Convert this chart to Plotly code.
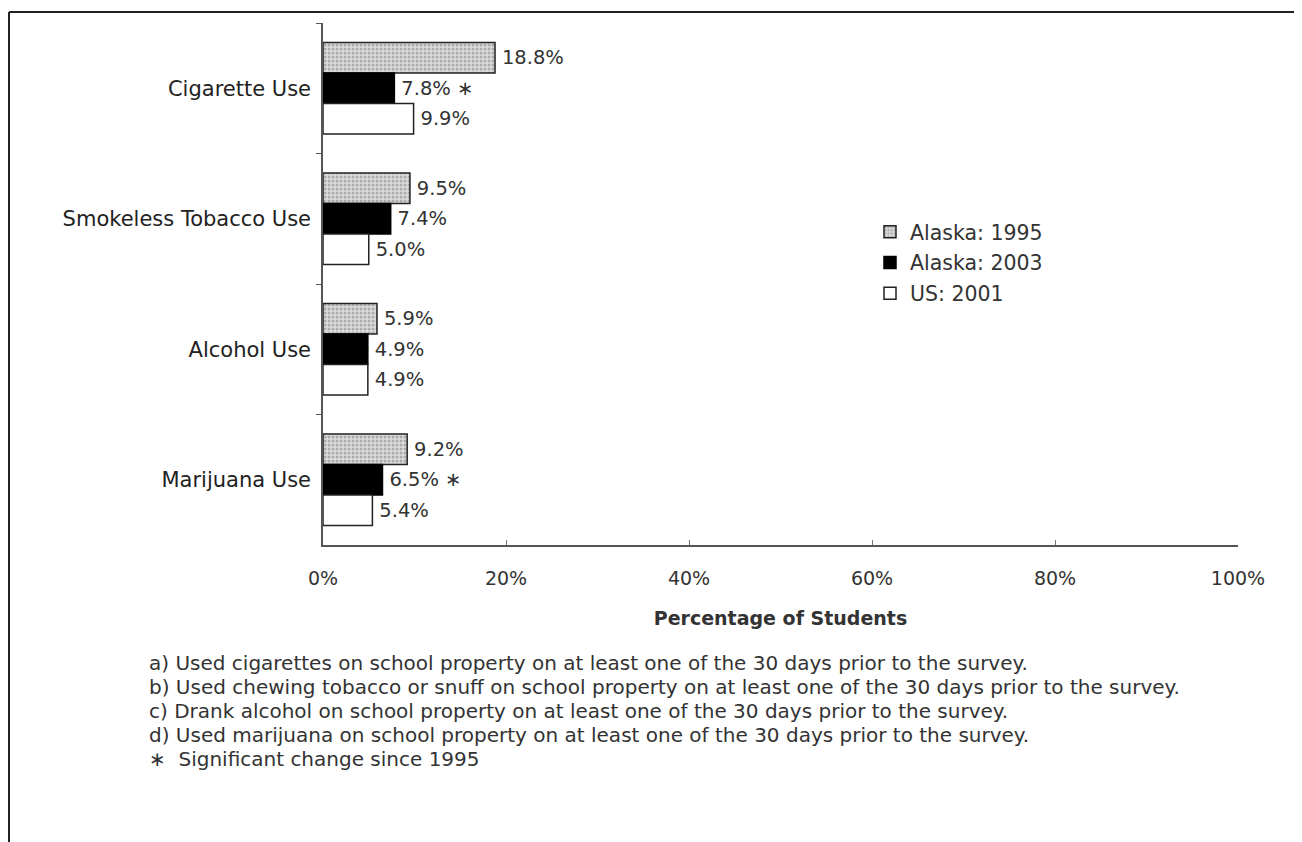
import plotly.graph_objects as go

categories = ["Cigarette Use", "Smokeless Tobacco Use", "Alcohol Use", "Marijuana Use"]
alaska_1995 = [18.8, 9.5, 5.9, 9.2]
alaska_2003 = [7.8, 7.4, 4.9, 6.5]
us_2001 = [9.9, 5.0, 4.9, 5.4]
sig_2003 = [True, False, False, True]
x_ticks = [0, 20, 40, 60, 80, 100]
x_tick_labels = ["0%", "20%", "40%", "60%", "80%", "100%"]
footnotes = [
    "a) Used cigarettes on school property on at least one of the 30 days prior to the survey.",
    "b) Used chewing tobacco or snuff on school property on at least one of the 30 days prior to the survey.",
    "c) Drank alcohol on school property on at least one of the 30 days prior to the survey.",
    "d) Used marijuana on school property on at least one of the 30 days prior to the survey.",
    "\u2217  Significant change since 1995",
]

FONT = "DejaVu Sans, Verdana, sans-serif"
TXT = "#333333"
SP = "\u2009"

def fmt(v):
    return f"{SP}{v:.1f}%"

fig = go.Figure()
fig.add_trace(go.Bar(
    y=categories, x=alaska_1995, orientation="h", name="Alaska: 1995",
    text=[fmt(v) for v in alaska_1995], textposition="outside",
    marker=dict(color="#dcdcdc", line=dict(color="#222", width=1.5),
                pattern=dict(shape=".", fgcolor="#7a7a7a", bgcolor="#dcdcdc", size=4, solidity=0.45)),
    legendgroup="a",
))
fig.add_trace(go.Bar(
    y=categories, x=alaska_2003, orientation="h", name="Alaska: 2003",
    text=[fmt(v) + (" \u2217" if s else "") for v, s in zip(alaska_2003, sig_2003)],
    textposition="outside",
    marker=dict(color="#000000", line=dict(color="#000", width=1.5)),
    legendgroup="b",
))
fig.add_trace(go.Bar(
    y=categories, x=us_2001, orientation="h", name="US: 2001",
    text=[fmt(v) for v in us_2001], textposition="outside",
    marker=dict(color="#ffffff", line=dict(color="#222", width=1.5)),
    legendgroup="c",
))
fig.update_traces(textfont=dict(family=FONT, size=19.5, color=TXT), cliponaxis=False)

# page body has an 8px margin; work in screen coordinates of the 1302x842 window
OFF = 8
SW, SH = 1302, 842
PL, PR, PT, PB = 323, 1238, 23, 545   # plot area in screen px
W, H = SW - OFF, SH - OFF
L, R, T, B = PL - OFF, SW - PR, PT - OFF, SH - PB
pw, ph = PR - PL, PB - PT

def px(xs):
    return (xs - PL) / pw

def py(ys):
    return (PB - ys) / ph

annotations = []
for i, line in enumerate(footnotes):
    annotations.append(dict(
        text=line, xref="paper", yref="paper", x=px(147), y=py(663 + 24 * i),
        xanchor="left", yanchor="middle", showarrow=False,
        font=dict(family=FONT, size=20, color=TXT),
    ))

shapes = [
    dict(type="line", xref="paper", yref="paper", x0=px(9), x1=px(1310), y0=py(12), y1=py(12),
         line=dict(color="#222", width=2)),
    dict(type="line", xref="paper", yref="paper", x0=px(9), x1=px(9), y0=py(12), y1=py(850),
         line=dict(color="#222", width=2)),
]

fig.update_layout(
    width=W, height=H,
    margin=dict(l=L, r=R, t=T, b=B),
    paper_bgcolor="white", plot_bgcolor="white",
    barmode="group", bargap=0.3, bargroupgap=0,
    font=dict(family=FONT, color=TXT),
    showlegend=True,
    legend=dict(x=px(870), y=py(212), xanchor="left", yanchor="top",
                font=dict(family=FONT, size=20.5, color=TXT),
                traceorder="grouped", tracegroupgap=1, itemwidth=30,
                bgcolor="rgba(0,0,0,0)"),
    xaxis=dict(range=[0, 100], tickvals=x_ticks, ticktext=x_tick_labels,
               showgrid=False, zeroline=False, showline=True, linecolor="#555", linewidth=2,
               ticks="inside", ticklen=5, tickcolor="#777",
               tickfont=dict(family=FONT, size=19, color=TXT), ticklabelstandoff=15,
               title=dict(text="<b>Percentage of Students</b>", standoff=24,
                          font=dict(family=FONT, size=19, color=TXT))),
    yaxis=dict(autorange="reversed", showgrid=False, zeroline=False, showline=True,
               linecolor="#555", linewidth=1.5, ticks="outside", ticklen=5, tickcolor="#555",
               tickson="boundaries",
               tickfont=dict(family=FONT, size=21, color="#222"), ticklabelstandoff=6),
    annotations=annotations,
    shapes=shapes,
)

fig.write_html("out.html")
